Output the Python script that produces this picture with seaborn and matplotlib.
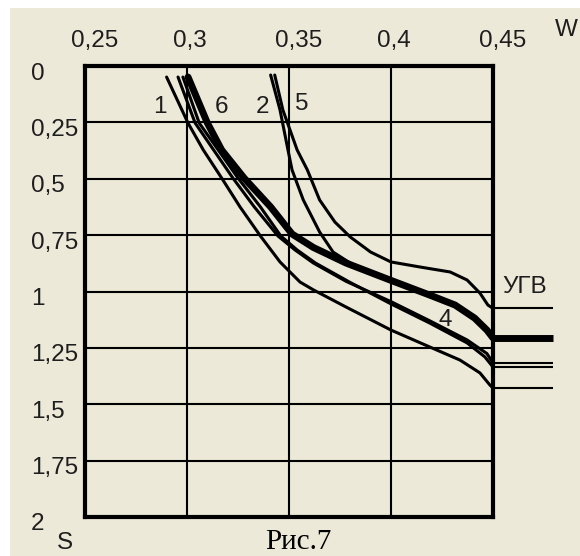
import matplotlib
matplotlib.use("Agg")
import matplotlib.pyplot as plt
import matplotlib.transforms as mtransforms
from matplotlib.patches import Rectangle
import seaborn as sns
import pandas as pd

# ---- data: moisture W vs depth S ----
curve1_w = [0.290, 0.3005, 0.308, 0.317, 0.326, 0.336, 0.3456, 0.3554, 0.362, 0.378, 0.400, 0.419, 0.4338, 0.4436, 0.4485, 0.450]
curve1_s = [0.049, 0.253, 0.3725, 0.497, 0.625, 0.754, 0.869, 0.958, 0.993, 1.069, 1.171, 1.246, 1.304, 1.361, 1.415, 1.428]

curve3_w = [0.2956, 0.304, 0.3225, 0.333, 0.3446, 0.353, 0.362, 0.378, 0.400, 0.419, 0.4373, 0.447, 0.450]
curve3_s = [0.049, 0.253, 0.497, 0.625, 0.754, 0.816, 0.874, 0.955, 1.045, 1.130, 1.215, 1.275, 1.317]

curve4_w = [0.298, 0.306, 0.325, 0.336, 0.346, 0.354, 0.363, 0.380, 0.400, 0.419, 0.4373, 0.446, 0.450]
curve4_s = [0.049, 0.253, 0.497, 0.625, 0.754, 0.816, 0.874, 0.960, 1.055, 1.140, 1.228, 1.290, 1.335]

curve6_w = [0.3005, 0.310, 0.317, 0.328, 0.341, 0.3515, 0.362, 0.378, 0.3995, 0.419, 0.4314, 0.441, 0.447, 0.450]
curve6_s = [0.049, 0.253, 0.3725, 0.497, 0.625, 0.745, 0.805, 0.874, 0.949, 1.016, 1.060, 1.118, 1.171, 1.206]

curve2_w = [0.341, 0.3456, 0.3495, 0.3515, 0.357, 0.365, 0.3716, 0.380, 0.3995, 0.419, 0.4314, 0.441, 0.447, 0.450]
curve2_s = [0.040, 0.195, 0.3725, 0.461, 0.594, 0.736, 0.825, 0.874, 0.949, 1.016, 1.060, 1.118, 1.171, 1.206]

curve5_w = [0.343, 0.347, 0.354, 0.359, 0.365, 0.3725, 0.380, 0.390, 0.400, 0.414, 0.429, 0.4373, 0.4436, 0.4475, 0.450]
curve5_s = [0.040, 0.195, 0.3725, 0.461, 0.594, 0.692, 0.758, 0.825, 0.869, 0.891, 0.9135, 0.949, 1.007, 1.060, 1.075]

# groundwater levels (УГВ) at the right edge
gw_levels = [1.072, 1.206, 1.317, 1.335, 1.428]
gw_widths = [1.5, 5.0, 1.5, 1.5, 1.5]

x_ticks = [0.25, 0.30, 0.35, 0.40, 0.45]
x_labels = ["0,25", "0,3", "0,35", "0,4", "0,45"]
y_ticks = [0, 0.25, 0.5, 0.75, 1.0, 1.25, 1.5, 1.75, 2.0]
y_labels = ["0", "0,25", "0,5", "0,75", "1", "1,25", "1,5", "1,75", "2"]

curve_labels = ["1", "6", "2", "5", "4"]
label_w = [0.2868, 0.317, 0.3368, 0.3564, 0.4265]
label_s = [0.182, 0.182, 0.182, 0.168, 1.125]

# ---- styling ----
BG = "#ECE9D8"
INK = "#1e1e1e"
sns.set_theme(style="white")
plt.rcParams["font.family"] = ["Liberation Sans", "DejaVu Sans"]
FS = 17.5

fig = plt.figure(figsize=(5.8, 5.56), dpi=100, facecolor="white")
fig.patches.append(Rectangle((10 / 580, 0), 1, 1 - 8 / 556, transform=fig.transFigure,
                             facecolor=BG, edgecolor="none", zorder=-10))

ax = fig.add_axes([85 / 580, 1 - 517 / 556, (493 - 85) / 580, (517 - 66) / 556])
ax.set_facecolor(BG)

# grid
for xv in x_ticks[1:-1]:
    ax.axvline(xv, color="black", lw=1.5, zorder=1)
for yv in y_ticks[1:-1]:
    ax.axhline(yv, color="black", lw=1.5, zorder=1)

thin = 2.2
curves = [
    (curve1_w, curve1_s, thin),
    (curve3_w, curve3_s, thin),
    (curve4_w, curve4_s, thin),
    (curve2_w, curve2_s, thin),
    (curve5_w, curve5_s, thin),
    (curve6_w, curve6_s, 5.0),
]
for w, s, lw in curves:
    df = pd.DataFrame({"W": w, "S": s})
    sns.lineplot(data=df, x="W", y="S", ax=ax, color="black", lw=lw,
                 estimator=None, sort=False, zorder=3)

for lev, lw in zip(gw_levels, gw_widths):
    ax.hlines(lev, 0.45, 0.4795, color="black", lw=lw, clip_on=False, zorder=3)

ax.set_xlim(0.25, 0.45)
ax.set_ylim(2.0, 0.0)
ax.set_xlabel("")
ax.set_ylabel("")

ax.set_xticks(x_ticks)
ax.set_xticklabels(x_labels)
ax.set_yticks(y_ticks)
ax.set_yticklabels(y_labels)
ax.tick_params(axis="x", top=True, bottom=False, labeltop=True, labelbottom=False,
               length=0, pad=10, labelsize=FS, labelcolor=INK)
ax.tick_params(axis="y", length=0, pad=54 * 0.72, labelsize=FS, labelcolor=INK)

for lab in ax.get_xticklabels():
    lab.set_horizontalalignment("left")
    lab.set_transform(lab.get_transform() +
                      mtransforms.ScaledTranslation(-13.5 / 100, 0, fig.dpi_scale_trans))
for lab in ax.get_yticklabels():
    lab.set_horizontalalignment("left")
    lab.set_transform(lab.get_transform() +
                      mtransforms.ScaledTranslation(0, -5 / 100, fig.dpi_scale_trans))

for sp in ax.spines.values():
    sp.set_visible(True)
    sp.set_color("black")
    sp.set_linewidth(3.0)
    sp.set_zorder(4)

for t, w, s in zip(curve_labels, label_w, label_s):
    ax.text(w, s, t, fontsize=FS, ha="center", va="center", color=INK, zorder=5)

ax.text(0.4657, 0.98, "УГВ", fontsize=FS, ha="center", va="center", color=INK,
        clip_on=False)

fig.text(566 / 580, 1 - 30 / 556, "W", fontsize=FS, ha="center", va="center", color=INK)
fig.text(65 / 580, 1 - 543 / 556, "S", fontsize=FS, ha="center", va="center", color=INK)
fig.text(298 / 580, 1 - 542 / 556, "Рис.7", fontsize=21, ha="center", va="center",
         family=["Liberation Serif", "DejaVu Serif"], color="black")

fig.savefig("out.png", dpi=100, facecolor=fig.get_facecolor())
